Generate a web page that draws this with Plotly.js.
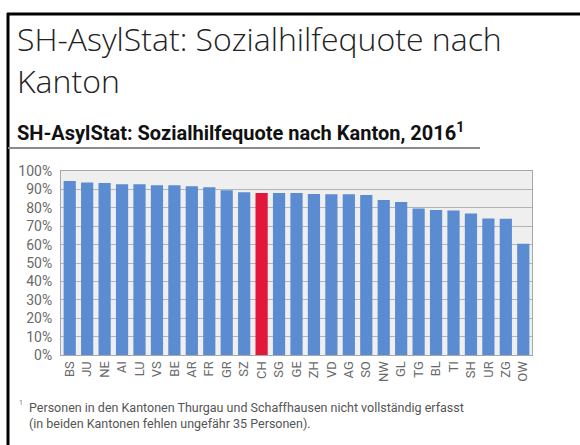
<!DOCTYPE html>
<html>
<head>
<meta charset="utf-8">
<script src="https://cdn.plot.ly/plotly-3.0.1.min.js"></script>
<style>html,body{margin:0;padding:0;background:#fff;}#chart{width:580px;height:445px;}</style>
</head>
<body>
<div id="chart"></div>
<script>
const cantons = ["BS","JU","NE","AI","LU","VS","BE","AR","FR","GR","SZ","CH","SG","GE","ZH","VD","AG","SO","NW","GL","TG","BL","TI","SH","UR","ZG","OW"];
const quote = [94.6,93.7,93.5,92.8,92.8,92.2,92.2,91.7,91.2,89.5,88.4,88.1,88.0,88.1,87.5,87.3,87.3,87.0,84.3,83.2,79.6,78.8,78.5,76.9,74.2,74.0,60.4];
const highlight = "CH";
const yTicks = [0,10,20,30,40,50,60,70,80,90,100];
const yTickText = yTicks.map(v => v + "%");

const W = 580, H = 445;
const M = {l: 61, r: 48, t: 171, b: 90};
const pw = W - M.l - M.r, ph = H - M.t - M.b;
const px = x => (x - M.l) / pw;
const py = y => (H - M.b - y) / ph;

const colors = cantons.map(c => c === highlight ? "#e2173c" : "#5b8bd0");

const data = [{
  type: "bar",
  x: cantons,
  y: quote,
  marker: {color: colors},
  hoverinfo: "x+y"
}];

const layout = {
  width: W, height: H,
  margin: M,
  paper_bgcolor: "#ffffff",
  plot_bgcolor: "#efefef",
  bargap: 0.3,
  showlegend: false,
  font: {family: "Roboto, Arial, sans-serif", color: "#555555"},
  xaxis: {
    type: "category",
    tickangle: -90,
    tickfont: {size: 13, color: "#6a6a6a", family: "Roboto, Arial, sans-serif"},
    showgrid: false,
    showline: true, linecolor: "#a8a8a8", linewidth: 1, mirror: true,
    ticks: "", ticklen: 0, fixedrange: true
  },
  yaxis: {
    range: [0, 100],
    tickvals: yTicks,
    ticktext: yTickText,
    tickfont: {size: 14, color: "#6a6a6a", family: "Roboto, Arial, sans-serif"},
    ticklabelstandoff: 5,
    showgrid: true, gridcolor: "#b4b4b4", gridwidth: 1,
    showline: true, linecolor: "#a8a8a8", linewidth: 1, mirror: true,
    zeroline: false, ticks: "", ticklen: 0, fixedrange: true
  },
  shapes: [
    {type: "line", xref: "paper", yref: "paper", x0: px(7), x1: px(580), y0: py(14), y1: py(14), line: {color: "#000", width: 3}},
    {type: "line", xref: "paper", yref: "paper", x0: px(8), x1: px(8), y0: py(13), y1: py(445), line: {color: "#000", width: 3}},
    {type: "line", xref: "paper", yref: "paper", x0: px(8), x1: px(480), y0: py(148), y1: py(148), line: {color: "#8a8a8a", width: 2}}
  ],
  annotations: [
    {xref: "paper", yref: "paper", x: px(16), y: py(16), xanchor: "left", yanchor: "top", align: "left", showarrow: false, borderpad: 0,
     text: "SH-AsylStat: Sozialhilfequote nach", font: {family: "Open Sans, sans-serif", size: 32, color: "#222222", weight: 300}},
    {xref: "paper", yref: "paper", x: px(16), y: py(58.5), xanchor: "left", yanchor: "top", align: "left", showarrow: false, borderpad: 0,
     text: "Kanton", font: {family: "Open Sans, sans-serif", size: 32, color: "#222222", weight: 300}},
    {xref: "paper", yref: "paper", x: px(15), y: py(117), xanchor: "left", yanchor: "top", align: "left", showarrow: false,
     text: "SH-AsylStat: Sozialhilfequote nach Kanton, 2016<sup>1</sup>", font: {family: "Roboto, Arial, sans-serif", size: 20, color: "#111111", weight: 700}},
    {xref: "paper", yref: "paper", x: px(17), y: py(397), xanchor: "left", yanchor: "top", showarrow: false,
     text: "1", font: {family: "Roboto, Arial, sans-serif", size: 7, color: "#777777"}},
    {xref: "paper", yref: "paper", x: px(27), y: py(398), xanchor: "left", yanchor: "top", align: "left", showarrow: false,
     text: "Personen in den Kantonen Thurgau und Schaffhausen nicht vollständig erfasst<br>(in beiden Kantonen fehlen ungefähr 35 Personen).",
     font: {family: "Roboto, Arial, sans-serif", size: 12.5, color: "#555555"}}
  ]
};

Plotly.newPlot("chart", data, layout, {displayModeBar: false, staticPlot: true});
</script>
</body>
</html>
